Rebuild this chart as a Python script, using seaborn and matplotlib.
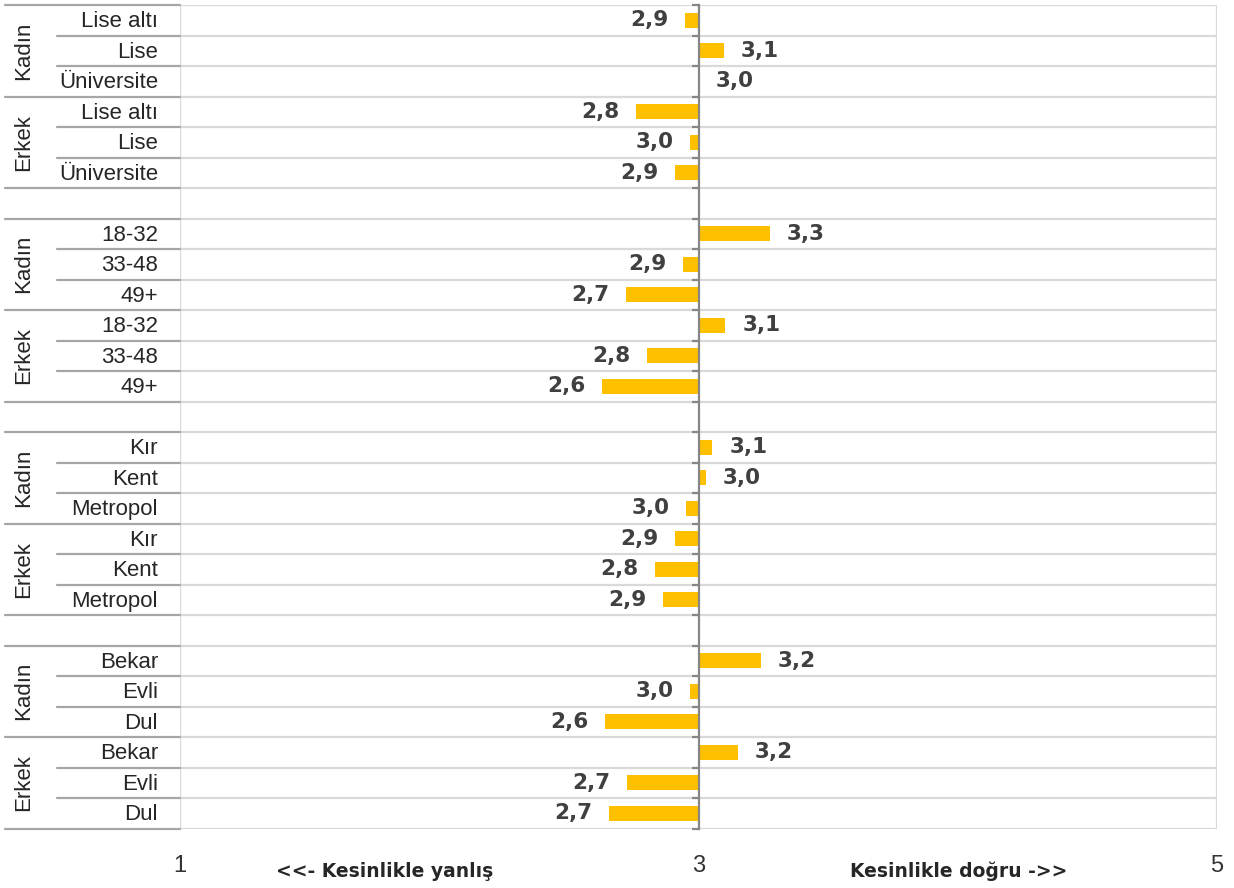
import pandas as pd
import numpy as np
import matplotlib
matplotlib.use("Agg")
import matplotlib.pyplot as plt
import matplotlib.transforms as mtransforms
import seaborn as sns

# ---- data ----
egitim = ["Lise altı", "Lise", "Üniversite"]
egitim_kadin = [2.949, 3.10, 3.00]
egitim_erkek = [2.76, 2.967, 2.909]

yas = ["18-32", "33-48", "49+"]
yas_kadin = [3.274, 2.942, 2.72]
yas_erkek = [3.104, 2.803, 2.629]

yer = ["Kır", "Kent", "Metropol"]
yer_kadin = [3.054, 3.029, 2.953]
yer_erkek = [2.911, 2.834, 2.863]

medeni = ["Bekar", "Evli", "Dul"]
medeni_kadin = [3.242, 2.968, 2.641]
medeni_erkek = [3.151, 2.725, 2.655]

genders = ["Kadın", "Erkek"]
scale_ticks = [1, 3, 5]
midpoint = 3
left_text = "<<- Kesinlikle yanlış"
right_text = "Kesinlikle doğru ->>"

sections = [
    (egitim, egitim_kadin, egitim_erkek),
    (yas, yas_kadin, yas_erkek),
    (yer, yer_kadin, yer_erkek),
    (medeni, medeni_kadin, medeni_erkek),
]

# build one row per bar, plus a blank row between sections
rows = []
for si, (cats, kad, erk) in enumerate(sections):
    for g, vals in zip(genders, (kad, erk)):
        for c, v in zip(cats, vals):
            rows.append({"key": f"{si}-{g}-{c}", "cat": c, "gender": g,
                         "value": v, "diff": v - midpoint})
    if si < len(sections) - 1:
        rows.append({"key": f"{si}-bos", "cat": "", "gender": "",
                     "value": np.nan, "diff": 0.0})
df = pd.DataFrame(rows)
order = df["key"].tolist()
n = len(order)

# ---- figure ----
sns.set_style("white")
plt.rcParams["font.family"] = ["Liberation Sans", "DejaVu Sans"]

fig = plt.figure(figsize=(12.34, 8.88), dpi=100)
ax = fig.add_axes([180 / 1234, 1 - 828.5 / 888, 1037 / 1234, 823.5 / 888])

sns.barplot(data=df, x="diff", y="key", order=order, orient="h",
            color="#ffc000", saturation=1, width=0.5, errorbar=None,
            linewidth=0, ax=ax)

lo, hi = scale_ticks[0] - midpoint, scale_ticks[-1] - midpoint
ax.set_xlim(lo, hi)
ax.set_ylim(n - 0.5, -0.5)

# row boundaries -> light grid in the plot, tick marks on the axis at 3
bounds = np.arange(n + 1) - 0.5
ax.set_yticks(bounds, minor=True)
ax.set_yticks([])
ax.grid(which="minor", axis="y", color="#d9d9d9", lw=1.6)
ax.set_axisbelow(True)
for b in (lo, hi):
    ax.axvline(b, color="#d9d9d9", lw=1.6, zorder=0)

for s in ["top", "right", "bottom"]:
    ax.spines[s].set_visible(False)
ax.spines["left"].set_position(("data", 0))
ax.spines["left"].set_color("#868686")
ax.spines["left"].set_linewidth(1.6)
ax.spines["left"].set_zorder(3)
ax.tick_params(axis="y", which="minor", direction="out", length=5,
               width=1.6, color="#868686", left=True)

ax.set_xticks([t - midpoint for t in scale_ticks])
ax.set_xticklabels([str(t) for t in scale_ticks], fontsize=17, color="#333333")
ax.tick_params(axis="x", length=0, pad=19)
ax.set_xlabel("")
ax.set_ylabel("")

# value labels
for i, r in df.iterrows():
    if np.isnan(r["value"]):
        continue
    txt = f"{r['value']:.1f}".replace(".", ",")
    if r["value"] >= midpoint:
        ax.annotate(txt, (r["diff"], i), xytext=(12, 0), textcoords="offset points",
                    ha="left", va="center", fontsize=15.5, fontweight="bold",
                    color="#404040", family=["DejaVu Sans"])
    else:
        ax.annotate(txt, (r["diff"], i), xytext=(-12, 0), textcoords="offset points",
                    ha="right", va="center", fontsize=15.5, fontweight="bold",
                    color="#404040", family=["DejaVu Sans"])

# left table: category labels, gender labels and separators
trans = mtransforms.blended_transform_factory(ax.transAxes, ax.transData)
px = 1 / 1037
x_full = -175 * px
x_sub = -123 * px
x_txt = -22 * px
x_gen = -156 * px
line_kw = dict(color="#a6a6a6", lw=1.6, transform=trans, clip_on=False)

for i, r in df.iterrows():
    if r["cat"]:
        ax.text(x_txt, i + 0.05, r["cat"], transform=trans, ha="right", va="center",
                fontsize=16, color="#262626")

start = 0
for si, (cats, _, _) in enumerate(sections):
    k = len(cats)
    for gi, g in enumerate(genders):
        s = start + gi * k
        ax.text(x_gen, s + (k - 1) / 2, g, transform=trans, rotation=90,
                ha="center", va="center", fontsize=16, color="#262626")
        ax.plot([x_full, 0], [s - 0.5, s - 0.5], **line_kw)
        for j in range(1, k):
            ax.plot([x_sub, 0], [s + j - 0.5, s + j - 0.5], **line_kw)
    end = start + 2 * k
    ax.plot([x_full, 0], [end - 0.5, end - 0.5], **line_kw)
    start = end + 1

# scale end captions
fig.text(385 / 1234, 1 - 871 / 888, left_text, ha="center", va="center",
         fontsize=13.5, fontweight="bold", color="#262626",
         family=["Liberation Sans Narrow", "DejaVu Sans"])
fig.text(959 / 1234, 1 - 871 / 888, right_text, ha="center", va="center",
         fontsize=13.5, fontweight="bold", color="#262626",
         family=["Liberation Sans Narrow", "DejaVu Sans"])

fig.savefig("out.png", dpi=100)
